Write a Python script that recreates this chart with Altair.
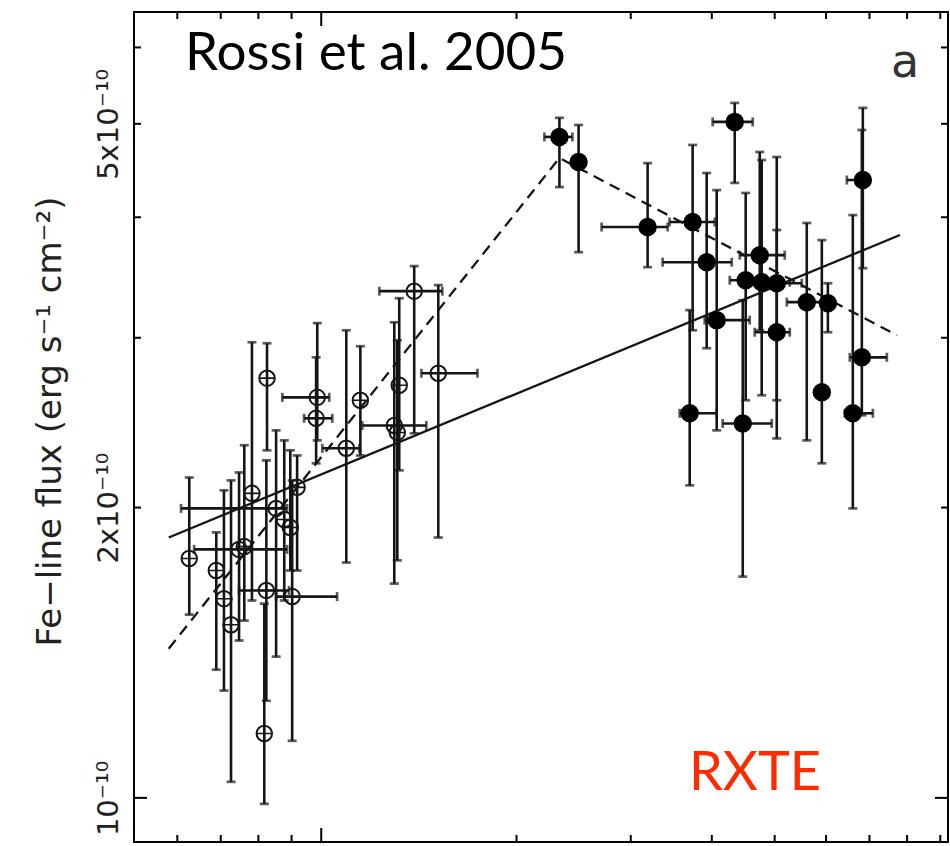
import altair as alt
import pandas as pd

NaN = float("nan")

# ---------------- data (x in units of the lower decade, y in 1e-10 erg/s/cm2) ----------------
# open circles (crossed)
open_x   = [0.626, 0.689, 0.708, 0.726, 0.747, 0.761, 0.782, 0.823, 0.825, 0.852, 0.877, 0.896,
            0.817, 0.902, 0.918, 0.986, 0.982, 1.093, 1.149, 1.319, 1.296, 1.310, 1.391, 1.515]
open_y   = [1.771, 1.721, 1.609, 1.512, 1.810, 1.822, 2.069, 1.641, 2.724, 1.996, 1.944, 1.907,
            1.166, 1.617, 2.099, 2.602, 2.475, 2.304, 2.584, 2.678, 2.433, 2.393, 3.353, 2.756]
open_ylo = [1.549, 1.358, 1.292, 1.039, 1.456, 1.527, 1.602, 1.261, 2.293, 1.401, 1.602, 1.721,
            0.986, 1.146, 1.721, 2.348, 2.223, 1.754, 2.265, 2.186, 1.668, 1.763, 2.388, 1.862]
open_yhi = [2.149, 1.885, 2.084, 2.134, 2.175, 2.321, 2.968, 2.239, 2.961, 2.405, 2.348, 2.293,
            1.590, 2.134, 2.265, 3.107, 2.863, 3.054, 2.940, 3.297, 3.113, 2.982, 3.560, 3.402]
open_xlo = [NaN, NaN, NaN, NaN, 0.637, NaN, NaN, 0.747, NaN, 0.608, NaN, NaN,
            NaN, 0.852, NaN, 0.871, 0.941, 1.004, NaN, NaN, 1.157, NaN, 1.229, 1.427]
open_xhi = [NaN, NaN, NaN, NaN, 0.886, NaN, NaN, 0.892, NaN, 0.886, NaN, NaN,
            NaN, 1.058, NaN, 1.029, 1.040, 1.145, NaN, NaN, 1.452, NaN, 1.537, 1.741]

# filled circles
fill_x   = [2.329, 2.493, 3.185, 3.737, 3.928, 4.070, 3.698, 4.464, 4.339, 6.837,
            4.742, 4.511, 4.775, 5.037, 5.037, 5.603, 6.039, 5.911, 6.813, 6.598]
fill_y   = [4.846, 4.564, 3.908, 3.955, 3.593, 3.129, 2.505, 2.445, 5.023, 4.372,
            3.654, 3.442, 3.425, 3.417, 3.040, 3.266, 3.258, 2.634, 2.863, 2.505]
fill_ylo = [4.299, 3.680, 3.550, 3.054, 2.926, 2.405, 2.109, 1.696, 4.342, 3.542,
            3.054, 2.584, 2.615, 2.584, 2.359, 2.348, 3.040, 2.223, 2.493, 1.996]
fill_yhi = [5.072, 4.986, 4.553, 4.754, 4.446, 4.268, 3.205, 3.281, 5.256, 5.194,
            4.675, 4.239, 4.586, 4.619, 3.880, 3.946, 3.417, 3.788, 4.927, 4.021]
fill_xlo = [2.208, NaN, 2.705, 3.443, 3.359, 3.900, 3.569, 4.157, 4.012, 6.459,
            4.417, 4.263, 4.488, 4.826, 4.658, 5.220, NaN, NaN, 6.528, 6.414]
fill_xhi = [2.439, NaN, 3.420, 4.042, 4.293, 4.576, 4.070, 4.948, 4.625, 6.959,
            5.182, 4.742, 5.275, 5.505, 5.275, 6.017, NaN, NaN, 7.445, 7.085]

# fitted models
solid_x = [0.582, 7.80]
solid_y = [1.862, 3.834]
dash_x = [0.582, 2.329, 7.715]
dash_y = [1.428, 4.608, 3.018]

# axis ticks
y_label_vals = [1, 2, 5]
y_minor = [2, 3, 4, 5, 6]
y_major = [1]
x_minor = [0.6, 0.7, 0.8, 0.9, 2, 3, 4, 5, 6, 7, 8, 9]
x_major = [1]

title_text = ["Rossi et al. 2005"]
panel_text = ["a"]
inst_text = ["RXTE"]

# ---------------- chart ----------------
W, H = 814, 830
INK = "#151515"
xs = alt.Scale(type="log", domain=[0.5145, 9.25], nice=False)
ys = alt.Scale(type="log", domain=[0.900, 6.53], nice=False)

yaxis = alt.Axis(
    values=y_label_vals,
    labelExpr="datum.value == 1 ? '10⁻¹⁰' : datum.value + 'x10⁻¹⁰'",
    ticks=False, tickSize=0, domain=False, grid=False,
    labelAngle=270, labelAlign="center", labelBaseline="alphabetic",
    labelPadding=17, labelFont="DejaVu Sans", labelFontSize=29, labelColor="#222222",
    title="Fe−line flux (erg s⁻¹ cm⁻²)", titleFont="DejaVu Sans", titleFontSize=34,
    titleFontWeight="normal", titleColor="#222222", titleAngle=270,
    titleAlign="center", titleBaseline="alphabetic", titleX=-74, titleY=409,
)


def YF(field):
    return alt.Y(field, scale=ys, axis=yaxis)


def XF(field):
    return alt.X(field, scale=xs, axis=None)


open_df = pd.DataFrame(dict(x=open_x, y=open_y, ylo=open_ylo, yhi=open_yhi, xlo=open_xlo, xhi=open_xhi))
fill_df = pd.DataFrame(dict(x=fill_x, y=fill_y, ylo=fill_ylo, yhi=fill_yhi, xlo=fill_xlo, xhi=fill_xhi))

EBW = 2.6
CAPW = 2.7
CAPS = 9


def errbars(df):
    base = alt.Chart(df)
    v = base.mark_rule(color=INK, strokeWidth=EBW).encode(x=XF("x:Q"), y=YF("ylo:Q"), y2="yhi:Q")
    c1 = base.mark_tick(color=INK, orient="horizontal", size=CAPS, thickness=CAPW).encode(
        x=XF("x:Q"), y=YF("ylo:Q"))
    c2 = base.mark_tick(color=INK, orient="horizontal", size=CAPS, thickness=CAPW).encode(
        x=XF("x:Q"), y=YF("yhi:Q"))
    hb = base.transform_filter("isValid(datum.xlo) && isFinite(datum.xlo)")
    h = hb.mark_rule(color=INK, strokeWidth=EBW).encode(x=XF("xlo:Q"), x2="xhi:Q", y=YF("y:Q"))
    c3 = hb.mark_tick(color=INK, orient="vertical", size=CAPS, thickness=CAPW).encode(
        x=XF("xlo:Q"), y=YF("y:Q"))
    c4 = hb.mark_tick(color=INK, orient="vertical", size=CAPS, thickness=CAPW).encode(
        x=XF("xhi:Q"), y=YF("y:Q"))
    return [v, c1, c2, h, c3, c4]


def yticks(vals, L):
    d = pd.DataFrame({"v": vals})
    left = alt.Chart(d).mark_rule(color="black", strokeWidth=2).encode(
        y=YF("v:Q"), x=alt.value(0), x2=alt.value(L))
    right = alt.Chart(d).mark_rule(color="black", strokeWidth=2).encode(
        y=YF("v:Q"), x=alt.value(W), x2=alt.value(W - L))
    return [left, right]


def xticks(vals, L):
    d = pd.DataFrame({"v": vals})
    bottom = alt.Chart(d).mark_rule(color="black", strokeWidth=2).encode(
        x=XF("v:Q"), y=alt.value(H), y2=alt.value(H - L))
    top = alt.Chart(d).mark_rule(color="black", strokeWidth=2).encode(
        x=XF("v:Q"), y=alt.value(0), y2=alt.value(L))
    return [bottom, top]


solid_df = pd.DataFrame({"x": solid_x, "y": solid_y})
dash_df = pd.DataFrame({"x": dash_x, "y": dash_y})

solid = alt.Chart(solid_df).mark_line(color=INK, strokeWidth=2.3).encode(x=XF("x:Q"), y=YF("y:Q"))
dashed = alt.Chart(dash_df).mark_line(color=INK, strokeWidth=2.3, strokeDash=[11, 7]).encode(
    x=XF("x:Q"), y=YF("y:Q"))

open_circ = alt.Chart(open_df).mark_point(shape="circle", filled=False, size=240, color=INK,
                                          strokeWidth=2.0, opacity=1).encode(x=XF("x:Q"), y=YF("y:Q"))
open_cross = alt.Chart(open_df).mark_point(shape="M-1,0L1,0M0,-1L0,1", filled=False, size=215,
                                           color=INK, strokeWidth=1.6, opacity=1).encode(
    x=XF("x:Q"), y=YF("y:Q"))
filled = alt.Chart(fill_df).mark_circle(size=340, color="black", opacity=1).encode(
    x=XF("x:Q"), y=YF("y:Q"))

t1 = alt.Chart(pd.DataFrame({"t": title_text})).mark_text(
    font="Lato", fontSize=53, align="left", baseline="alphabetic", color="black").encode(
    text="t:N", x=alt.value(51), y=alt.value(58))
t2 = alt.Chart(pd.DataFrame({"t": panel_text})).mark_text(
    font="DejaVu Sans", fontSize=46, align="left", baseline="alphabetic", color="#333333").encode(
    text="t:N", x=alt.value(757), y=alt.value(65))
t3 = alt.Chart(pd.DataFrame({"t": inst_text})).mark_text(
    font="Lato", fontSize=54, align="left", baseline="alphabetic", color="#ff2a00").encode(
    text="t:N", x=alt.value(555), y=alt.value(778))

layers = (yticks(y_minor, 7) + yticks(y_major, 13) + xticks(x_minor, 7) + xticks(x_major, 14)
          + errbars(open_df) + errbars(fill_df)
          + [solid, dashed, open_circ, open_cross, filled, t1, t2, t3])

chart = alt.layer(*layers).properties(
    width=W, height=H,
    autosize=alt.AutoSizeParams(type="none"),
    padding={"left": 134, "top": 12, "right": 2, "bottom": 4},
).configure(
    background="white",
    view=alt.ViewConfig(stroke="black", strokeWidth=2),
)

chart.save("out.html", embed_options={"renderer": "svg", "actions": False})
